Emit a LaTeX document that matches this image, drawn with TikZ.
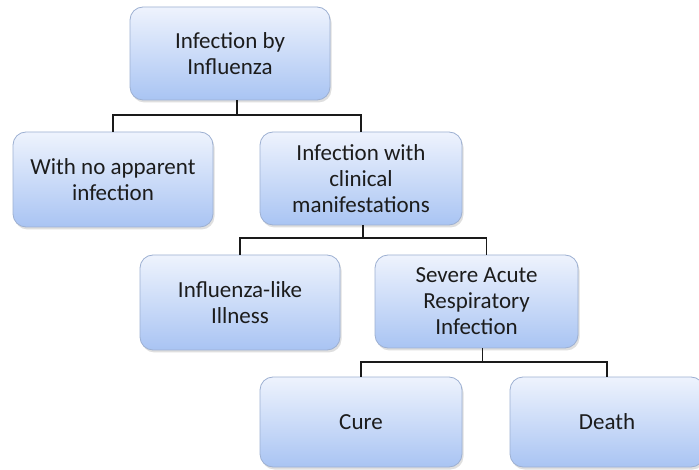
\documentclass[tikz,border=0pt]{standalone}
\usepackage{fontspec}
\setmainfont{Carlito}
\usetikzlibrary{shadows}
\definecolor{boxtop}{HTML}{EEF3FD}
\definecolor{boxbot}{HTML}{A9C4F3}
\definecolor{boxline}{HTML}{9DB0D2}
\definecolor{txt}{HTML}{1C1C1C}
\definecolor{conn}{HTML}{1A1A1A}
\tikzset{
  box/.style={draw=boxline, line width=0.8pt, rounded corners=13pt,
    top color=boxtop, bottom color=boxbot, align=center, text=txt,
    font=\fontsize{23}{26}\selectfont, inner sep=2pt,
    drop shadow={opacity=0.25, shadow xshift=1.5pt, shadow yshift=-2.5pt}},
  link/.style={draw=conn, line width=1.8pt}
}
\begin{document}
\begin{tikzpicture}[x=1pt,y=-1pt]
\path[use as bounding box, clip] (0,0) rectangle (699,470);
\fill[white] (0,0) rectangle (699,470);
\node[box, minimum width=200pt, minimum height=93pt] (n1) at (230,53.5) {Infection by\\Influenza};
\node[box, minimum width=200pt, minimum height=95pt] (n2) at (113,179.5) {With no apparent\\infection};
\node[box, minimum width=202pt, minimum height=93pt] (n3) at (361,178.5) {Infection with\\clinical\\manifestations};
\node[box, minimum width=200pt, minimum height=95pt] (n4) at (240,302.5) {Influenza-like\\Illness};
\node[box, minimum width=203pt, minimum height=93pt] (n5) at (476.5,301.5) {Severe Acute\\Respiratory\\Infection};
\node[box, minimum width=202pt, minimum height=90pt] (n6) at (361,422) {Cure};
\node[box, minimum width=194pt, minimum height=90pt] (n7) at (607,422) {Death};
\draw[link] ([xshift=7pt]n1.south) -- ++(0,15) -| (n2.north);
\draw[link] ([xshift=7pt]n1.south) ++(0,15) -| (n3.north);
\draw[link] ([xshift=2pt]n3.south) -- ++(0,13) -| (n4.north);
\draw[link] ([xshift=2pt]n3.south) ++(0,13) -| ([xshift=10pt]n5.north);
\draw[link] ([xshift=6pt]n5.south) -- ++(0,14) -| (n6.north);
\draw[link] ([xshift=6pt]n5.south) ++(0,14) -| (n7.north);
\end{tikzpicture}
\end{document}
